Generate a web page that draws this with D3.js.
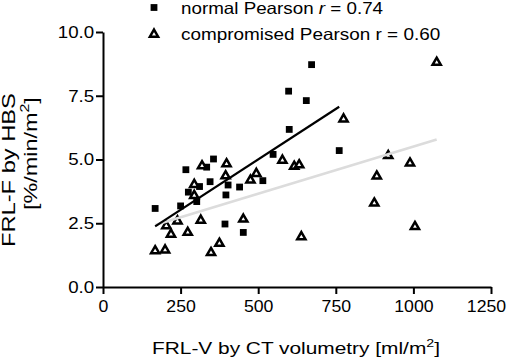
<!DOCTYPE html>
<html>
<head>
<meta charset="utf-8">
<script src="https://cdn.jsdelivr.net/npm/d3@7"></script>
<style>
  body { margin: 0; background: #fff; }
  text { font-family: "Liberation Sans", Arial, sans-serif; fill: #000; }
</style>
</head>
<body>
<script>
// normal liver group (filled squares)
const normalX = [168, 250, 267, 275, 302, 311, 334, 356, 345, 396, 403, 440, 393, 452, 515, 548, 600, 598, 655, 672, 761];
const normalY = [3.08, 3.18, 4.60, 3.72, 3.35, 3.94, 4.70, 5.02, 4.13, 3.61, 4.00, 3.92, 2.47, 2.14, 4.17, 5.20, 6.18, 7.68, 7.31, 8.72, 5.35];

// compromised liver group (open triangles)
const compX = [168, 200, 204, 219, 240, 273, 294, 294, 315, 319, 348, 375, 395, 398, 452, 475, 494, 578, 616, 632, 639, 775, 874, 882, 919, 989, 1005, 1075];
const compY = [1.45, 1.48, 2.43, 2.10, 2.62, 2.17, 4.05, 3.62, 2.65, 4.78, 1.38, 1.74, 4.39, 4.86, 2.69, 4.22, 4.48, 5.00, 4.76, 4.82, 2.00, 6.62, 3.32, 4.38, 5.18, 4.89, 2.40, 8.84];

// regression line end points
const normalFitX = [168, 761];
const normalFitY = [2.38, 7.07];
const compFitX = [168, 1075];
const compFitY = [2.43, 5.78];

const xTicks = [0, 250, 500, 750, 1000, 1250];
const yTicks = [0, 2.5, 5.0, 7.5, 10.0];

window.onload = function () {

  function getDimensions() {
    const DIMENSIONS = {
      width: 511,
      height: 358,
      margin: { top: 32, bottom: 70, left: 103, right: 20 }
    }
    return DIMENSIONS
  }

  // text with optional superscripts, stretched to a measured width
  function addLabel(parent, parts, x, y, size, width, angle) {
    const t = parent.append('text')
                    .attr('font-size', size)
                    .attr('text-anchor', 'start');
    let shift = 0;
    parts.forEach(p => {
      const want = p.sup ? -size * 0.42 : 0;
      const ts = t.append('tspan').text(p.t).attr('dy', want - shift);
      if (p.sup) ts.attr('font-size', size * 0.68);
      if (p.it) ts.attr('font-style', 'italic');
      shift = want;
    });
    const w = t.node().getComputedTextLength();
    const s = width / w;
    t.attr('transform', `translate(${x},${y}) rotate(${angle || 0}) scale(${s},1)`);
    return t;
  }

  function scatter() {
    const DM = getDimensions();

    const SVG = d3.select('body')
                  .append('svg')
                  .attr('width', DM.width)
                  .attr('height', DM.height);

    const xScale = d3.scaleLinear()
                     .domain([0, 1250])
                     .range([DM.margin.left, DM.width - DM.margin.right]);
    const yScale = d3.scaleLinear()
                     .domain([0, 10])
                     .range([DM.height - DM.margin.bottom - 1, DM.margin.top]);

    const xAxis = d3.axisBottom(xScale).tickValues(xTicks).tickFormat(d3.format('d'))
                    .tickSize(7).tickSizeOuter(0).tickPadding(6);
    const yAxis = d3.axisLeft(yScale).tickValues(yTicks).tickFormat(d3.format('.1f'))
                    .tickSize(7).tickSizeOuter(0).tickPadding(1);

    const gx = SVG.append('g')
                  .attr('transform', `translate(0,${yScale(0)})`)
                  .call(xAxis);
    const gy = SVG.append('g')
                  .attr('transform', `translate(${xScale(0)},0)`)
                  .call(yAxis);

    [gx, gy].forEach(g => {
      g.selectAll('path, line').attr('stroke', '#000').attr('stroke-width', 2);
      g.selectAll('text')
       .attr('font-size', 17)
       .attr('font-family', '"Liberation Sans", Arial, sans-serif')
       .attr('fill', '#000');
    });
    gy.selectAll('.tick text').attr('transform', 'scale(1.1,1)');
    gx.selectAll('.tick text')
      .attr('transform', (d) => d === 1250 ? 'translate(-5,0) scale(1.04,1)' : 'scale(1.04,1)');

    // points
    const sq = 6.8;
    SVG.append('g').selectAll('rect')
       .data(normalX)
       .join('rect')
       .attr('x', (d) => xScale(d) - sq / 2)
       .attr('y', (d, i) => yScale(normalY[i]) - sq / 2)
       .attr('width', sq)
       .attr('height', sq)
       .attr('fill', '#000');

    const tri = 'M0,-3.9L4.1,3.2L-4.1,3.2Z';
    SVG.append('g').selectAll('path')
       .data(compX)
       .join('path')
       .attr('d', tri)
       .attr('transform', (d, i) => `translate(${xScale(d)},${yScale(compY[i])})`)
       .attr('fill', '#fff')
       .attr('stroke', '#000')
       .attr('stroke-width', 2.5)
       .attr('stroke-linejoin', 'miter');

    // regression lines
    const line = d3.line().x(d => xScale(d[0])).y(d => yScale(d[1]));
    SVG.append('path')
       .attr('d', line(d3.zip(compFitX, compFitY)))
       .attr('stroke', '#dcdcdc')
       .attr('stroke-width', 2.6)
       .attr('fill', 'none');
    SVG.append('path')
       .attr('d', line(d3.zip(normalFitX, normalFitY)))
       .attr('stroke', '#000')
       .attr('stroke-width', 2.2)
       .attr('fill', 'none');

    // legend
    SVG.append('rect')
       .attr('x', 154 - sq / 2).attr('y', 7.5 - sq / 2)
       .attr('width', sq).attr('height', sq)
       .attr('fill', '#000');
    SVG.append('path')
       .attr('d', tri)
       .attr('transform', 'translate(154,33.5)')
       .attr('fill', '#fff')
       .attr('stroke', '#000')
       .attr('stroke-width', 2.5);
    addLabel(SVG, [{ t: 'normal Pearson ' }, { t: 'r', it: true }, { t: ' = 0.74' }], 181, 13.5, 16.3, 202);
    addLabel(SVG, [{ t: 'compromised Pearson r = 0.60' }], 181, 39.5, 16.3, 259);

    // axis titles
    addLabel(SVG, [{ t: 'FRL-V by CT volumetry [ml/m' }, { t: '2', sup: true }, { t: ']' }], 152, 354, 17.2, 288);
    addLabel(SVG, [{ t: 'FRL-F by HBS' }], 14.5, 247, 17.5, 154, -90);
    addLabel(SVG, [{ t: '[%/min/m' }, { t: '2', sup: true }, { t: ']' }], 36.5, 210, 17.5, 113, -90);
  }

  scatter();
}
</script>
</body>
</html>
